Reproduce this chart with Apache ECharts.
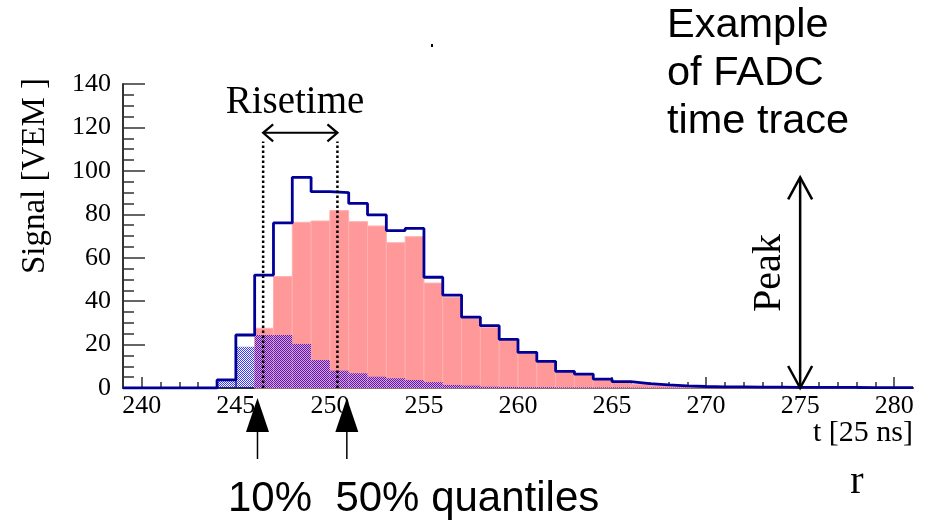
<!DOCTYPE html>
<html>
<head>
<meta charset="utf-8">
<script src="https://cdn.jsdelivr.net/npm/echarts@6/dist/echarts.min.js"></script>
<style>
  html, body { margin: 0; padding: 0; background: #fff; }
  #chart { width: 929px; height: 520px; }
</style>
</head>
<body>
<div id="chart"></div>
<script>
// FADC time trace, one bin per 25 ns, each bin keyed by its left edge
const binStart = [239,240,241,242,243,244,245,246,247,248,249,250,251,252,253,254,255,256,257,258,
                  259,260,261,262,263,264,265,266,267,268,269,270,271,272,273,274,275,276,277,278,279,280];
// total signal (VEM) per bin
const totalSignal = [0,0,0,0,0,3.7,24.4,52,76,97,90.4,90,85,79.7,72.5,73.5,51,42.8,32.6,28.7,
                     22.4,16.4,12.3,7.7,6.4,4.1,2.9,2.0,1.4,1.0,0.7,0.5,0.5,0.4,0.4,0.3,0.3,0.3,0.3,0.2,0.2,0.2];
// electromagnetic component
const emSignal = [0,0,0,0,0,0,0,27.5,51.3,76.3,76.9,81.7,76.6,74.6,66.9,69.7,48.3,41.8,32.1,28,
                  21.8,16,11.8,7.4,6.1,3.7,2.6,1.7,1.1,0.8,0.5,0.4,0.4,0.3,0.3,0.2,0.2,0.2,0.2,0,0,0];
// muonic component
const muonSignal = [0,0,0,0,0,3.5,19,24.4,24.4,20.3,12.9,8,6.8,5.2,4.5,3.7,2.7,1.4,1.1,0.6,
                    0.5,0.4,0.4,0.3,0.3,0.3,0.3,0.2,0.2,0.2,0.1,0.1,0,0,0,0,0,0,0,0,0,0];

const xMajorTicks = [240,245,250,255,260,265,270,275,280];
const xMinorTicks = [];
for (let t = 240; t <= 280; t++) if (t % 5 !== 0) xMinorTicks.push(t);

// quantile times marked on the trace
const t10 = 246.45, t50 = 250.4;           // dotted rise-time bounds
const quantileArrowT = [246.15, 250.9];     // arrows under the time axis
const riseArrowLevel = 117.5;              // height of the rise-time arrow (VEM)
const riseGuideTop = 113.5;
const peakT = 275;
const peakValue = Math.max(...totalSignal);

const SERIF = '"Liberation Serif", "DejaVu Serif", serif';
const SANS = '"Liberation Sans", Arial, sans-serif';

// 2x2 dot pattern for the muon fill
const hatch = document.createElement('canvas');
hatch.width = 2; hatch.height = 2;
const hctx = hatch.getContext('2d');
hctx.fillStyle = 'rgba(0,0,255,0.78)';
hctx.fillRect(0, 0, 1, 1);
hctx.fillRect(1, 1, 1, 1);

function barRenderer(fill, stroke) {
  return function (params, api) {
    const x = api.value(0), v = api.value(1);
    if (!v) return null;
    const p0 = api.coord([x, 0]);
    const p1 = api.coord([x + 1, v]);
    return {
      type: 'rect',
      shape: { x: p0[0], y: p1[1], width: p1[0] - p0[0], height: p0[1] - p1[1] },
      style: { fill: fill, stroke: stroke, lineWidth: stroke ? 1 : 0 }
    };
  };
}

function chevron(tip, dx, dy, ux, uy) {
  // open arrow head pointing along (ux, uy) with tip at `tip`
  const px = -uy, py = ux;
  return [
    [tip[0] - ux * dy + px * dx, tip[1] - uy * dy + py * dx],
    tip,
    [tip[0] - ux * dy - px * dx, tip[1] - uy * dy - py * dx]
  ];
}

function annotationRenderer(params, api) {
  const children = [];
  const black = '#000';
  // dotted guides at the 10% and 50% quantiles
  [t10, t50].forEach(function (t) {
    const a = api.coord([t, 0]), b = api.coord([t, riseGuideTop]);
    children.push({ type: 'line', shape: { x1: a[0], y1: a[1], x2: b[0], y2: b[1] },
      style: { stroke: black, lineWidth: 2.5, lineDash: [2.5, 2.5] } });
  });
  // rise-time double arrow
  const r0 = api.coord([t10, riseArrowLevel]), r1 = api.coord([t50, riseArrowLevel]);
  children.push({ type: 'line', shape: { x1: r0[0], y1: r0[1], x2: r1[0], y2: r1[1] },
    style: { stroke: black, lineWidth: 2 } });
  children.push({ type: 'polyline', shape: { points: chevron(r0, 8.5, 10, -1, 0) },
    style: { stroke: black, lineWidth: 2.2, fill: null } });
  children.push({ type: 'polyline', shape: { points: chevron(r1, 8.5, 10, 1, 0) },
    style: { stroke: black, lineWidth: 2.2, fill: null } });
  // peak double arrow
  const k0 = api.coord([peakT, 0]), k1 = api.coord([peakT, peakValue]);
  children.push({ type: 'line', shape: { x1: k0[0], y1: k0[1], x2: k1[0], y2: k1[1] },
    style: { stroke: black, lineWidth: 2.5 } });
  children.push({ type: 'polyline', shape: { points: chevron(k1, 12, 22, 0, -1) },
    style: { stroke: black, lineWidth: 2.5, fill: null } });
  children.push({ type: 'polyline', shape: { points: chevron(k0, 12, 22, 0, 1) },
    style: { stroke: black, lineWidth: 2.5, fill: null } });
  // quantile arrows below the time axis
  quantileArrowT.forEach(function (t) {
    const p = api.coord([t, 0]);
    const tipY = p[1] + 10, baseY = p[1] + 44, endY = p[1] + 71;
    children.push({ type: 'polygon', shape: { points: [[p[0], tipY], [p[0] - 11.5, baseY], [p[0] + 11.5, baseY]] },
      style: { fill: black } });
    children.push({ type: 'line', shape: { x1: p[0], y1: baseY - 1, x2: p[0], y2: endY },
      style: { stroke: black, lineWidth: 1.5 } });
  });
  return { type: 'group', children: children };
}

const chart = echarts.init(document.getElementById('chart'), null, { renderer: 'canvas' });

const axisColor = '#333';
chart.setOption({
  animation: false,
  backgroundColor: '#fff',
  grid: { left: 123, right: 16, top: 84, bottom: 132, containLabel: false },
  xAxis: [
    {
      type: 'value', min: 239, max: 281, position: 'bottom',
      axisLine: { show: true, lineStyle: { color: axisColor, width: 2 } },
      axisTick: { show: true, inside: true, length: 11, customValues: xMajorTicks,
        lineStyle: { color: axisColor, width: 1.5 } },
      axisLabel: { show: true, customValues: xMajorTicks, margin: 5, color: '#000',
        fontFamily: SERIF, fontSize: 26 },
      splitLine: { show: false }
    },
    {
      type: 'value', min: 239, max: 281, position: 'bottom', offset: 0,
      axisLine: { show: false },
      axisTick: { show: true, inside: true, length: 6, customValues: xMinorTicks,
        lineStyle: { color: axisColor, width: 1.5 } },
      axisLabel: { show: false },
      splitLine: { show: false }
    }
  ],
  yAxis: {
    type: 'value', min: 0, max: 140, interval: 20,
    axisLine: { show: true, lineStyle: { color: axisColor, width: 2 } },
    axisTick: { show: true, inside: true, length: 22, lineStyle: { color: axisColor, width: 1.5 } },
    minorTick: { show: true, splitNumber: 4, length: 11, lineStyle: { color: axisColor, width: 1.5 } },
    axisLabel: { margin: 12, color: '#000', fontFamily: SERIF, fontSize: 26 },
    splitLine: { show: false }
  },
  series: [
    {
      name: 'em', type: 'custom', xAxisIndex: 0, z: 2,
      renderItem: barRenderer('#ff9999', '#ffafaf'),
      encode: { x: 0, y: 1 },
      data: binStart.map(function (t, i) { return [t, emSignal[i]]; })
    },
    {
      name: 'mu', type: 'custom', xAxisIndex: 0, z: 3,
      renderItem: barRenderer({ image: hatch, repeat: 'repeat' }, null),
      encode: { x: 0, y: 1 },
      data: binStart.map(function (t, i) { return [t, muonSignal[i]]; })
    },
    {
      name: 'total', type: 'line', xAxisIndex: 0, z: 4, step: 'end',
      showSymbol: false, symbol: 'none',
      lineStyle: { color: '#000099', width: 2.8 },
      data: binStart.map(function (t, i) { return [t, totalSignal[i]]; })
        .concat([[binStart[binStart.length - 1] + 1, totalSignal[totalSignal.length - 1]]])
    },
    {
      name: 'annotations', type: 'custom', xAxisIndex: 0, z: 5, clip: false, silent: true,
      renderItem: annotationRenderer,
      data: [[peakT, 0]]
    }
  ],
  graphic: [
    { type: 'text', left: 667, top: 2, style: { text: 'Example\nof FADC\ntime trace', font: '41.5px ' + SANS, lineHeight: 48, fill: '#000' } },
    { type: 'text', x: 295, y: 103, style: { text: 'Risetime', font: '39px ' + SERIF, fill: '#000', align: 'center', verticalAlign: 'middle' } },
    { type: 'text', x: 769, y: 273, rotation: Math.PI / 2, style: { text: 'Peak', font: '40px ' + SERIF, fill: '#000', align: 'center', verticalAlign: 'middle' } },
    { type: 'text', x: 430, y: 343, style: { text: 'em', font: '40px ' + SERIF, fill: '#000', align: 'center', verticalAlign: 'middle' } },
    { type: 'text', x: 291, y: 369, style: { text: 'μ', font: '41px ' + SERIF, fill: '#000', align: 'center', verticalAlign: 'middle' } },
    { type: 'text', x: 35, y: 176, rotation: Math.PI / 2, style: { text: 'Signal [VEM ]', font: '33px ' + SERIF, fill: '#000', align: 'center', verticalAlign: 'middle' } },
    { type: 'text', x: 913, y: 433, style: { text: 't [25 ns]', font: '30px ' + SERIF, fill: '#000', align: 'right', verticalAlign: 'middle' } },
    { type: 'text', x: 228, y: 499, style: { text: '10%  50% quantiles', font: '42px ' + SANS, fill: '#000', align: 'left', verticalAlign: 'middle' } },
    { type: 'text', x: 857, y: 482, style: { text: 'r', font: '40px ' + SERIF, fill: '#000', align: 'center', verticalAlign: 'middle' } },
    { type: 'rect', shape: { x: 431, y: 44, width: 2, height: 3 }, style: { fill: '#000' } }
  ]
});
</script>
</body>
</html>
